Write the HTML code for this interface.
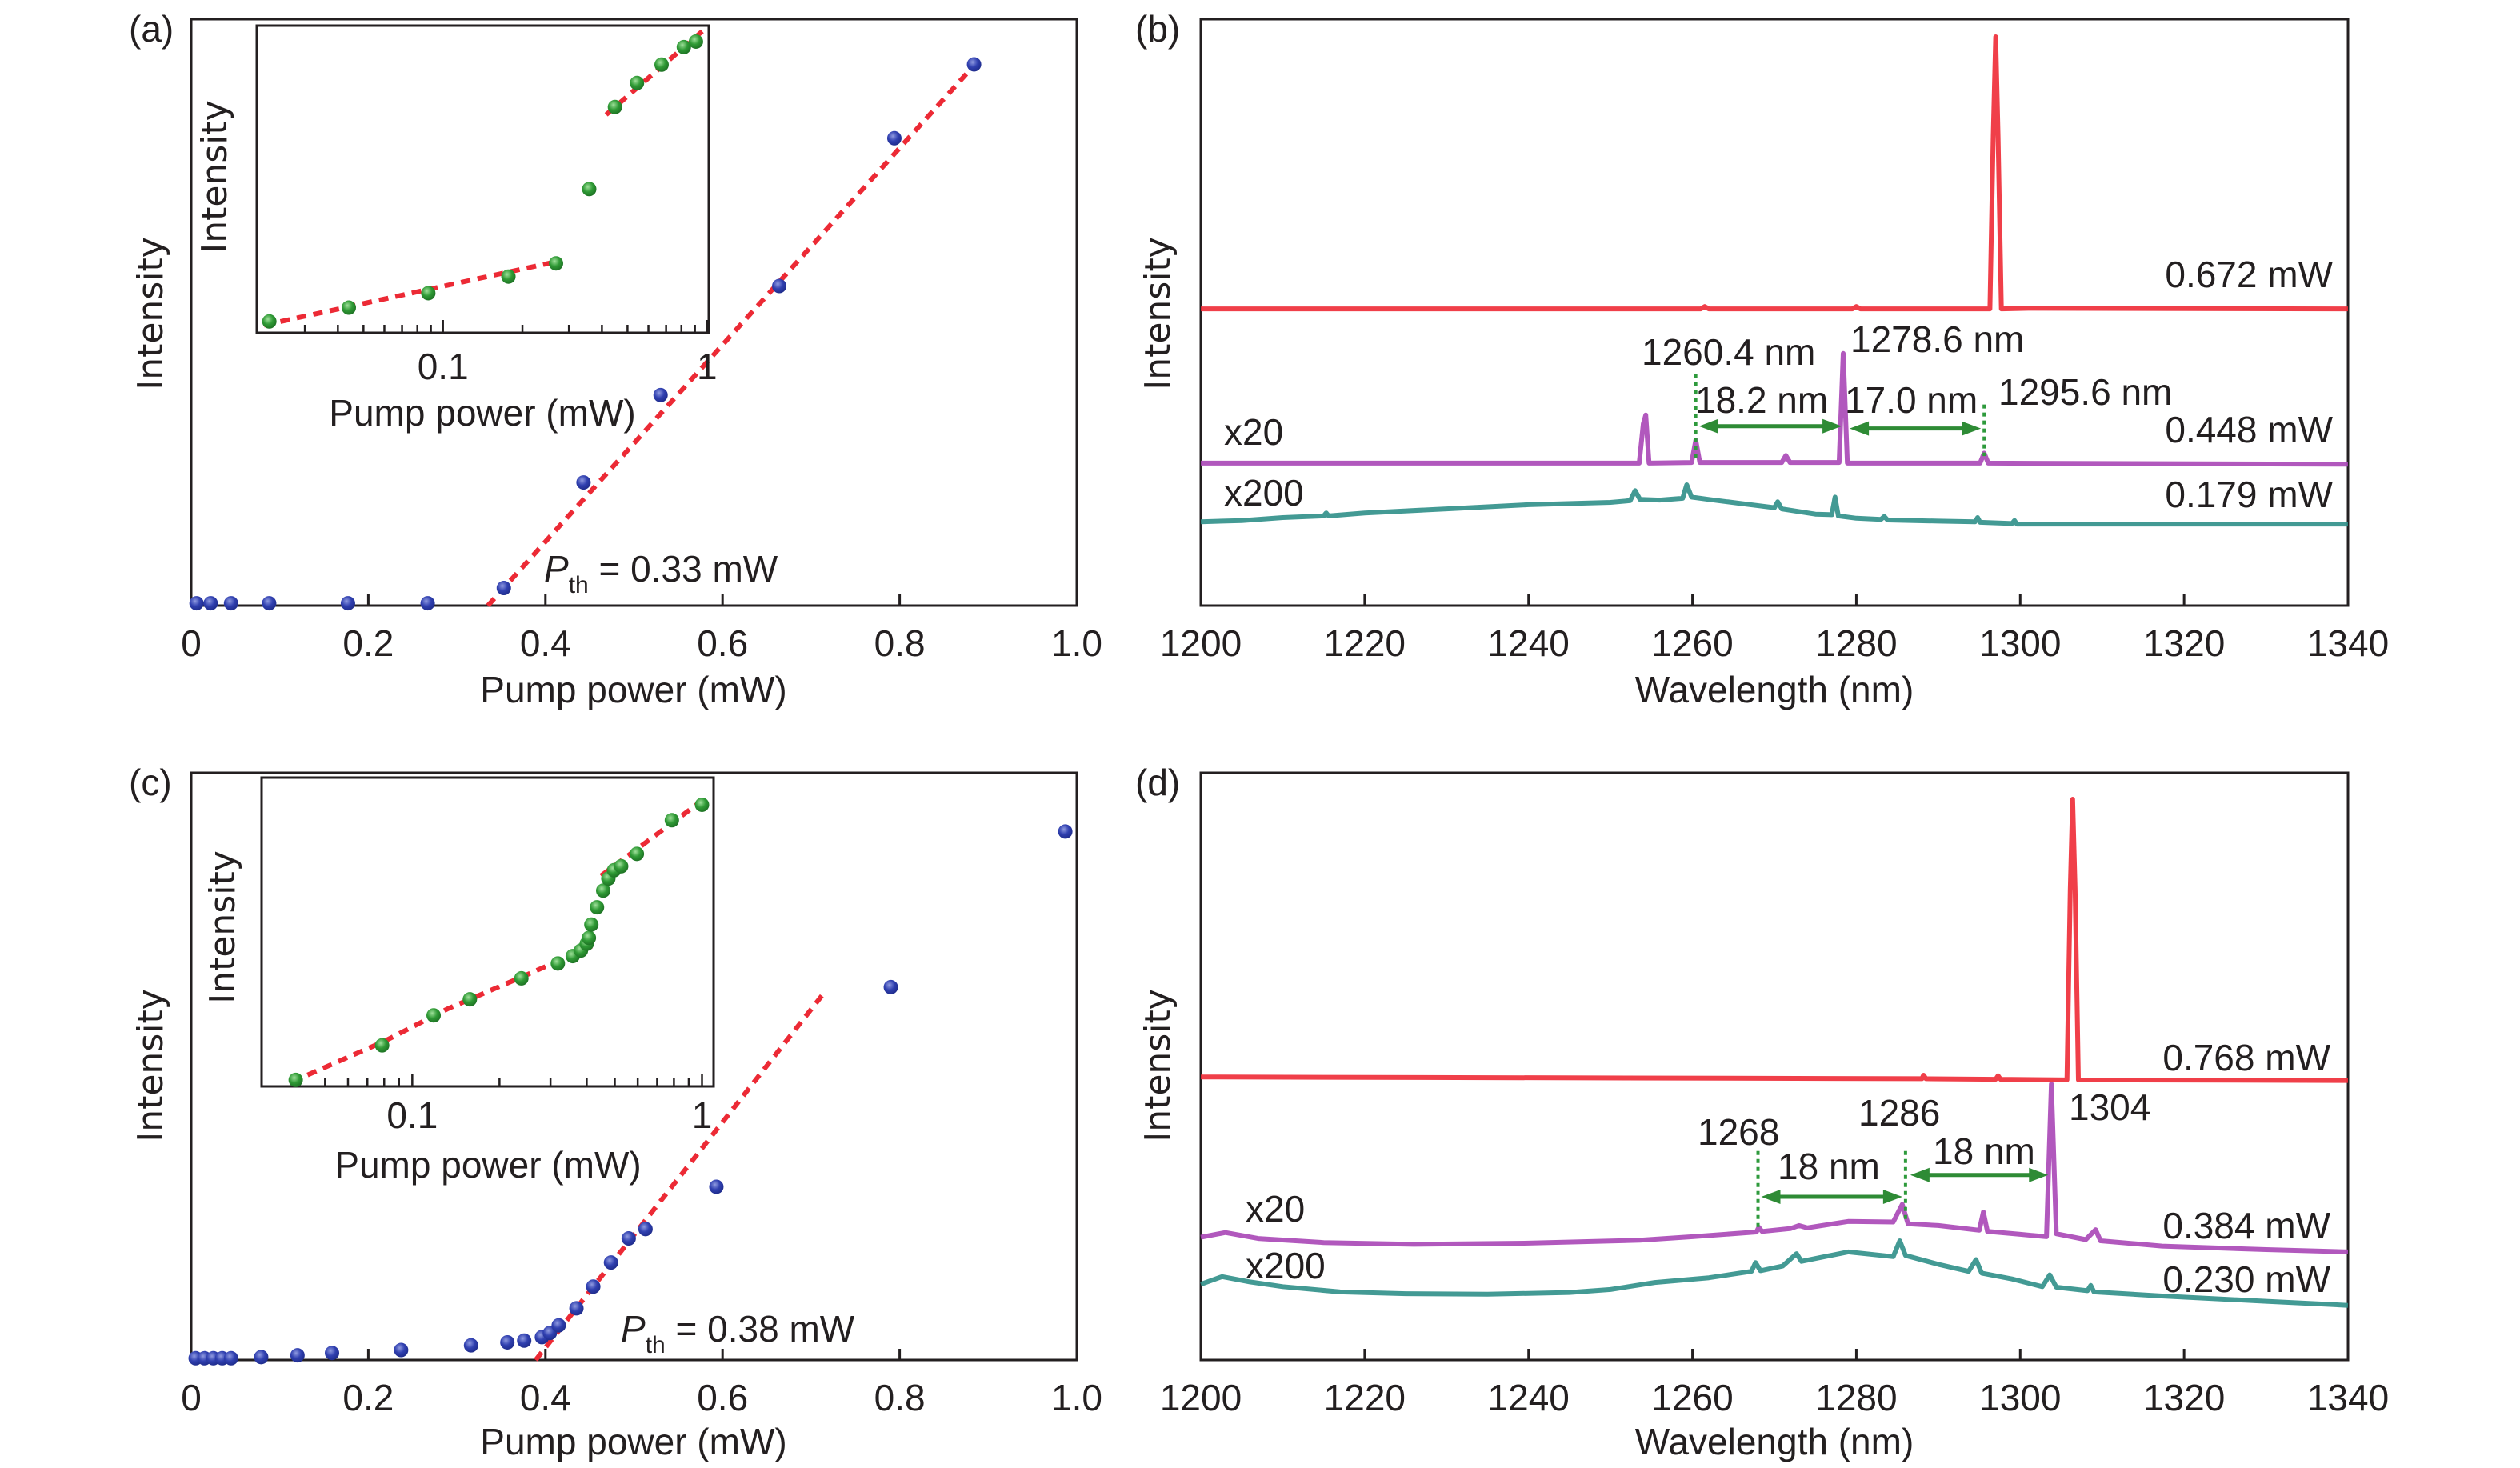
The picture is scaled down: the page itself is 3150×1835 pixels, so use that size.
<!DOCTYPE html>
<html><head><meta charset="utf-8">
<style>
html,body{margin:0;padding:0;background:#fff;}
svg{display:block;font-family:"Liberation Sans",sans-serif;}
.t{font-size:46px;fill:#231f20;}
.yl{font-family:"DejaVu Sans","Liberation Sans",sans-serif;font-size:44px;fill:#231f20;}
</style></head>
<body>
<svg id="fig" width="3150" height="1835" viewBox="0 0 3150 1835" xmlns="http://www.w3.org/2000/svg">
<defs>
<radialGradient id="gb" cx="0.4" cy="0.35" r="0.7"><stop offset="0" stop-color="#8f9ae0"/><stop offset="0.5" stop-color="#3040b0"/><stop offset="1" stop-color="#1d2a88"/></radialGradient>
<radialGradient id="gg" cx="0.4" cy="0.35" r="0.7"><stop offset="0" stop-color="#9fe09a"/><stop offset="0.5" stop-color="#2f9a35"/><stop offset="1" stop-color="#1c6e22"/></radialGradient>
</defs>
<g id="layer"></g>
<text class="t" x="161" y="52">(a)</text>
<text class="t" x="1419" y="52">(b)</text>
<text class="t" x="161" y="994">(c)</text>
<text class="t" x="1419" y="994">(d)</text>
<text class="yl" transform="translate(203,392) rotate(-90)" text-anchor="middle">Intensity</text>
<text class="yl" transform="translate(1462,392) rotate(-90)" text-anchor="middle">Intensity</text>
<text class="yl" transform="translate(203,1332) rotate(-90)" text-anchor="middle">Intensity</text>
<text class="yl" transform="translate(1462,1332) rotate(-90)" text-anchor="middle">Intensity</text>
<text class="yl" transform="translate(283,221) rotate(-90)" text-anchor="middle">Intensity</text>
<text class="yl" transform="translate(293,1159) rotate(-90)" text-anchor="middle">Intensity</text>
<text class="t" x="792" y="878" text-anchor="middle">Pump power (mW)</text>
<text class="t" x="2218" y="878" text-anchor="middle">Wavelength (nm)</text>
<text class="t" x="792" y="1818" text-anchor="middle">Pump power (mW)</text>
<text class="t" x="2218" y="1818" text-anchor="middle">Wavelength (nm)</text>
<text class="t" x="603" y="532" text-anchor="middle">Pump power (mW)</text>
<text class="t" x="610" y="1472" text-anchor="middle">Pump power (mW)</text>
<text class="t" x="680" y="727"><tspan font-style="italic">P</tspan><tspan font-size="30" dy="14">th</tspan><tspan dy="-14"> = 0.33 mW</tspan></text>
<text class="t" x="776" y="1677"><tspan font-style="italic">P</tspan><tspan font-size="30" dy="14">th</tspan><tspan dy="-14"> = 0.38 mW</tspan></text>
<text class="t" x="2916" y="359" text-anchor="end">0.672 mW</text>
<text class="t" x="2916" y="553" text-anchor="end">0.448 mW</text>
<text class="t" x="2916" y="634" text-anchor="end">0.179 mW</text>
<text class="t" x="1530" y="556">x20</text>
<text class="t" x="1530" y="632">x200</text>
<text class="t" x="2052" y="456">1260.4 nm</text>
<text class="t" x="2313" y="440">1278.6 nm</text>
<text class="t" x="2498" y="506">1295.6 nm</text>
<text class="t" x="2119" y="516">18.2 nm</text>
<text class="t" x="2306" y="516">17.0 nm</text>
<text class="t" x="2913" y="1338" text-anchor="end">0.768 mW</text>
<text class="t" x="2913" y="1548" text-anchor="end">0.384 mW</text>
<text class="t" x="2913" y="1615" text-anchor="end">0.230 mW</text>
<text class="t" x="1557" y="1527">x20</text>
<text class="t" x="1557" y="1598">x200</text>
<text class="t" x="2122" y="1431">1268</text>
<text class="t" x="2323" y="1407">1286</text>
<text class="t" x="2586" y="1400">1304</text>
<text class="t" x="2222" y="1474">18 nm</text>
<text class="t" x="2416" y="1455">18 nm</text>
</svg>
<script>
// ---------- data ----------
const linTicks = [0, 0.2, 0.4, 0.6, 0.8, 1.0];
const linTickLabels = ["0", "0.2", "0.4", "0.6", "0.8", "1.0"];
const wlTicks = [1200, 1220, 1240, 1260, 1280, 1300, 1320, 1340];
const logMajor = [0.1, 1];
const logMajorLabels = ["0.1", "1"];
const logMinor = [0.02,0.03,0.04,0.05,0.06,0.07,0.08,0.09,0.2,0.3,0.4,0.5,0.6,0.7,0.8,0.9];

const aPower = [0.006,0.022,0.045,0.088,0.177,0.267,0.353,0.443,0.530,0.664,0.794,0.884];
const aInt   = [0.004,0.004,0.004,0.004,0.004,0.004,0.030,0.210,0.359,0.545,0.797,0.923];
const aFitX = [0.335, 0.885];
const aFitY = [0.0, 0.923];
const aInsetPower = [0.022,0.044,0.088,0.177,0.268,0.358,0.448,0.543,0.673,0.817,0.908];
const aInsetInt   = [0.037,0.082,0.129,0.183,0.226,0.468,0.735,0.813,0.873,0.930,0.948];
const aInsetFitLowX = [0.021, 0.28];
const aInsetFitLowY = [0.025, 0.235];
const aInsetFitHighX = [0.415, 1.0];
const aInsetFitHighY = [0.71, 0.995];

const cPower = [0.005,0.015,0.025,0.035,0.045,0.079,0.120,0.159,0.237,0.316,0.357,0.376,0.396,0.405,0.415,0.435,0.454,0.474,0.494,0.513,0.593,0.790,0.987];
const cInt   = [0.003,0.003,0.003,0.003,0.003,0.005,0.008,0.012,0.017,0.025,0.030,0.033,0.039,0.046,0.059,0.088,0.125,0.166,0.207,0.223,0.295,0.635,0.900];
const cFitX = [0.389, 0.714];
const cFitY = [0.0, 0.624];
const cInsetPower = [0.0396,0.0787,0.1185,0.158,0.238,0.318,0.358,0.382,0.400,0.407,0.415,0.434,0.456,0.475,0.497,0.526,0.596,0.787,1.0];
const cInsetInt   = [0.021,0.133,0.230,0.282,0.350,0.398,0.422,0.440,0.462,0.481,0.524,0.580,0.634,0.673,0.700,0.713,0.753,0.862,0.912];
const cInsetFitLowX = [0.0385,0.080,0.133,0.241,0.428];
const cInsetFitLowY = [0.015,0.146,0.252,0.356,0.459];
const cInsetFitHighX = [0.448, 1.04];
const cInsetFitHighY = [0.682, 0.937];

const bRedWl  = [1200,1261,1261.5,1262,1279.5,1280,1280.5,1296.3,1296.7,1297,1297.3,1297.7,1301,1340];
const bRedVal = [0.506,0.506,0.510,0.506,0.506,0.510,0.506,0.506,0.80,0.970,0.80,0.506,0.507,0.506];
const bPurWl  = [1200,1253.5,1254,1254.3,1254.7,1259.9,1260.4,1260.9,1270.9,1271.4,1271.9,1277.9,1278.4,1278.9,1295.1,1295.6,1296.1,1340];
const bPurVal = [0.243,0.243,0.31,0.325,0.243,0.244,0.282,0.244,0.244,0.256,0.244,0.244,0.430,0.243,0.243,0.260,0.243,0.241];
const bTealWl  = [1200,1205,1210,1215,1215.3,1215.6,1220,1230,1240,1250,1252.4,1253,1253.6,1256,1258.8,1259.3,1259.9,1262,1266,1270,1270.4,1270.9,1275,1277,1277.4,1277.8,1280,1283,1283.4,1283.8,1290,1294.5,1294.8,1295.1,1299,1299.3,1299.6,1310,1320,1340];
const bTealVal = [0.143,0.145,0.150,0.153,0.158,0.153,0.158,0.165,0.172,0.176,0.179,0.196,0.181,0.180,0.183,0.206,0.185,0.181,0.174,0.167,0.177,0.165,0.156,0.155,0.185,0.153,0.149,0.147,0.152,0.146,0.144,0.143,0.150,0.142,0.140,0.145,0.139,0.139,0.139,0.139];

const dRedWl  = [1200,1288,1288.2,1288.5,1297,1297.3,1297.6,1305.7,1306.1,1306.4,1306.7,1307.1,1340];
const dRedVal = [0.482,0.479,0.485,0.479,0.478,0.484,0.478,0.477,0.80,0.955,0.80,0.477,0.476];
const dPurWl  = [1200,1203,1207,1215,1226,1240,1253.6,1260,1267.8,1268.1,1268.5,1272,1273,1274,1279,1284.5,1285.6,1286.3,1290,1295,1295.5,1296,1300,1303.2,1303.8,1304.4,1308,1309.2,1309.8,1317.3,1330,1340];
const dPurVal = [0.209,0.217,0.207,0.200,0.197,0.199,0.204,0.210,0.218,0.226,0.219,0.224,0.229,0.225,0.236,0.235,0.265,0.232,0.229,0.221,0.252,0.219,0.214,0.210,0.470,0.215,0.205,0.222,0.203,0.194,0.188,0.184];
const dTealWl  = [1200,1202.6,1206,1210,1217,1225,1235,1245,1250,1255.4,1262,1267.2,1267.7,1268.3,1271,1272.7,1273.3,1279,1284.5,1285.3,1286,1290,1293.7,1294.6,1295.3,1299,1302.7,1303.6,1304.4,1308.2,1308.6,1309,1317.3,1330,1340];
const dTealVal = [0.129,0.142,0.133,0.125,0.116,0.113,0.112,0.115,0.120,0.132,0.140,0.151,0.166,0.152,0.160,0.181,0.168,0.184,0.176,0.203,0.178,0.163,0.151,0.171,0.148,0.138,0.125,0.145,0.124,0.118,0.127,0.116,0.109,0.100,0.093];

const bMarkers = [1260.4, 1278.6, 1295.6];
const dMarkers = [1268, 1286, 1304];

// ---------- helpers ----------
const NS = "http://www.w3.org/2000/svg";
const layer = document.getElementById('layer');
function mk(tag, attrs, parent) {
  const e = document.createElementNS(NS, tag);
  for (const k in attrs) e.setAttribute(k, attrs[k]);
  (parent || layer).appendChild(e);
  return e;
}
function linScale(d0, d1, r0, r1) { return v => r0 + (v - d0) / (d1 - d0) * (r1 - r0); }
function logScale(l0, l1, r0, r1) { return v => r0 + (Math.log10(v) - l0) / (l1 - l0) * (r1 - r0); }

function frame(x0, y0, x1, y1, name, sw) {
  const r = mk('rect', {x:x0, y:y0, width:x1-x0, height:y1-y0, fill:'none', stroke:'#231f20', 'stroke-width':sw});
  
  
}

function linAxis(sx, yb, ticks, labels, prefix) {
  ticks.forEach((t, i) => {
    const x = sx(t);
    const l = mk('line', {x1:x, x2:x, y1:yb, y2:yb-14, stroke:'#231f20', 'stroke-width':3});
    
    
    const tx = mk('text', {x:x, y:yb+63, 'text-anchor':'middle', class:'t'});
    tx.textContent = labels[i];
    
    
  });
}

function logAxis(sx, yb, ybLabel, prefix, xmin, xmax) {
  logMinor.forEach(t => {
    const x = sx(t);
    if (x <= xmin + 2 || x >= xmax - 2) return;
    const l = mk('line', {x1:x, x2:x, y1:yb, y2:yb-10, stroke:'#231f20', 'stroke-width':2.5});
    
    
  });
  logMajor.forEach((t, i) => {
    const x = sx(t);
    const l = mk('line', {x1:x, x2:x, y1:yb, y2:yb-16, stroke:'#231f20', 'stroke-width':2.5});
    
    
    const tx = mk('text', {x:x, y:ybLabel, 'text-anchor':'middle', class:'t'});
    tx.textContent = logMajorLabels[i];
    
    
  });
}

function dots(xs, ys, sx, sy, fill, r, name) {
  xs.forEach((v, i) => {
    const c = mk('circle', {cx:sx(v), cy:sy(ys[i]), r:r, fill:fill});
    
    
  });
}

function fitLine(xs, ys, sx, sy, name) {
  const p = mk('polyline', {points: xs.map((v,i)=>sx(v)+','+sy(ys[i])).join(' '), fill:'none', stroke:'#ec2a35', 'stroke-width':6, 'stroke-dasharray':'12 9'});
  
  
}

function spectrum(wl, val, sx, sy, color, name) {
  const p = mk('polyline', {points: wl.map((w,i)=>sx(w).toFixed(1)+','+sy(val[i]).toFixed(1)).join(' '), fill:'none', stroke:color, 'stroke-width':6, 'stroke-linejoin':'round', 'stroke-opacity':0.9});
  
  
}

function marker(x, y0, y1, name) {
  const l = mk('line', {x1:x, x2:x, y1:y0, y2:y1, stroke:'#2e9a3c', 'stroke-width':4, 'stroke-dasharray':'5 5'});
  
  
}
function arrow(x0, x1, y, name) {
  const g = mk('g', {});
  
  
  mk('line', {x1:x0+18, x2:x1-18, y1:y, y2:y, stroke:'#2e8b35', 'stroke-width':5}, g);
  mk('polygon', {points:`${x0},${y} ${x0+24},${y-9} ${x0+24},${y+9}`, fill:'#2e8b35'}, g);
  mk('polygon', {points:`${x1},${y} ${x1-24},${y-9} ${x1-24},${y+9}`, fill:'#2e8b35'}, g);
}

// ---------- panel (a) ----------
const aX = linScale(0, 1, 239, 1346), aY = linScale(0, 1, 757, 24);
frame(239, 24, 1346, 757, 'axes-frame-a', 3);
linAxis(aX, 757, linTicks, linTickLabels, 'x-axis-a');
fitLine(aFitX, aFitY, aX, aY, 'fit-line-a');
dots(aPower, aInt, aX, aY, 'url(#gb)', 9, 'data-point-a');
const aiX = logScale(-1.705, 0.0068, 321, 886), aiY = linScale(0, 1, 416, 32);
const aBg = mk('rect', {x:321, y:32, width:565, height:384, fill:'#fff'});


frame(321, 32, 886, 416, 'inset-frame-a', 3);
logAxis(aiX, 416, 474, 'inset-x-axis-a', 321, 886);
fitLine(aInsetFitLowX, aInsetFitLowY, aiX, aiY, 'inset-fit-low-a');
fitLine(aInsetFitHighX, aInsetFitHighY, aiX, aiY, 'inset-fit-high-a');
dots(aInsetPower, aInsetInt, aiX, aiY, 'url(#gg)', 9, 'inset-point-a');

// ---------- panel (c) ----------
const cX = linScale(0, 1, 239, 1346), cY = linScale(0, 1, 1700, 966);
frame(239, 966, 1346, 1700, 'axes-frame-c', 3);
linAxis(cX, 1700, linTicks, linTickLabels, 'x-axis-c');
fitLine(cFitX, cFitY, cX, cY, 'fit-line-c');
dots(cPower, cInt, cX, cY, 'url(#gb)', 9, 'data-point-c');
const ciX = logScale(-1.52, 0.04, 327, 892), ciY = linScale(0, 1, 1358, 972);
const cBg = mk('rect', {x:327, y:972, width:565, height:386, fill:'#fff'});


frame(327, 972, 892, 1358, 'inset-frame-c', 3);
logAxis(ciX, 1358, 1410, 'inset-x-axis-c', 327, 892);
fitLine(cInsetFitLowX, cInsetFitLowY, ciX, ciY, 'inset-fit-low-c');
fitLine(cInsetFitHighX, cInsetFitHighY, ciX, ciY, 'inset-fit-high-c');
dots(cInsetPower, cInsetInt, ciX, ciY, 'url(#gg)', 9, 'inset-point-c');

// ---------- panel (b) ----------
const bX = linScale(1200, 1340, 1501, 2935), bY = linScale(0, 1, 757, 24);
frame(1501, 24, 2935, 757, 'axes-frame-b', 3);
linAxis(bX, 757, wlTicks, wlTicks.map(String), 'x-axis-b');
spectrum(bTealWl, bTealVal, bX, bY, '#2f8f88', 'spectrum-0179mw');
spectrum(bPurWl, bPurVal, bX, bY, '#a846b6', 'spectrum-0448mw');
spectrum(bRedWl, bRedVal, bX, bY, '#ee2a35', 'spectrum-0672mw');
marker(bX(bMarkers[0]), bY(0.395), bY(0.250), 'marker-line-1260');
marker(bX(bMarkers[2]), bY(0.343), bY(0.255), 'marker-line-1295');
arrow(bX(bMarkers[0]) + 4, bX(bMarkers[1]) - 4, bY(0.306), 'spacing-arrow-18-2');
arrow(bX(bMarkers[1]) + 6, bX(bMarkers[2]) - 4, bY(0.302), 'spacing-arrow-17-0');

// ---------- panel (d) ----------
const dX = linScale(1200, 1340, 1501, 2935), dY = linScale(0, 1, 1700, 966);
frame(1501, 966, 2935, 1700, 'axes-frame-d', 3);
linAxis(dX, 1700, wlTicks, wlTicks.map(String), 'x-axis-d');
spectrum(dTealWl, dTealVal, dX, dY, '#2f8f88', 'spectrum-0230mw');
spectrum(dPurWl, dPurVal, dX, dY, '#a846b6', 'spectrum-0384mw');
spectrum(dRedWl, dRedVal, dX, dY, '#ee2a35', 'spectrum-0768mw');
marker(dX(dMarkers[0]), dY(0.356), dY(0.220), 'marker-line-1268');
marker(dX(dMarkers[1]), dY(0.356), dY(0.236), 'marker-line-1286');
arrow(dX(dMarkers[0]) + 4, dX(dMarkers[1]) - 4, dY(0.278), 'spacing-arrow-left');
arrow(dX(dMarkers[1]) + 6, dX(dMarkers[2]) - 6, dY(0.315), 'spacing-arrow-right');
</script>
</body></html>
